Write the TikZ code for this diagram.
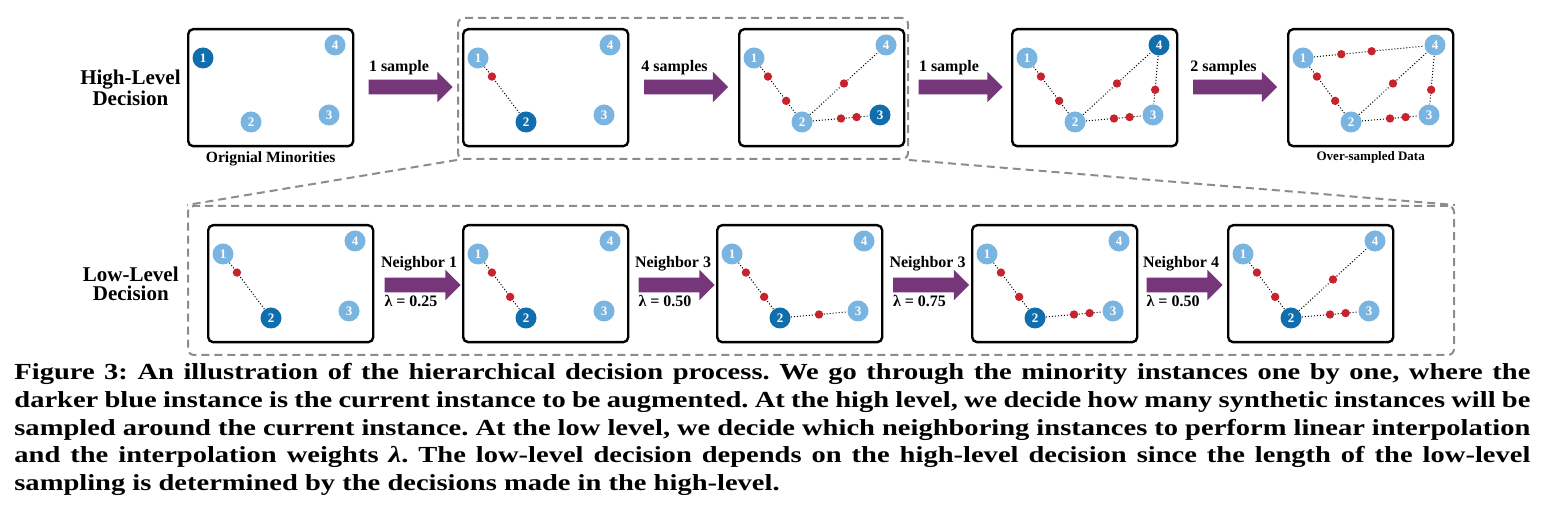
\documentclass[tikz,border=0pt]{standalone}
\usepackage{fontspec}
\setmainfont{Liberation Serif}
\newfontfamily\capfont[FakeStretch=1.24]{Liberation Serif}
\usepackage{tikz}
\usetikzlibrary{positioning,calc,shapes.arrows}
\definecolor{instdark}{RGB}{17,110,172}
\definecolor{instlight}{RGB}{122,180,225}
\definecolor{synthred}{RGB}{200,35,45}
\definecolor{arrowpurple}{RGB}{117,55,122}
\definecolor{zoomgray}{RGB}{140,140,140}
\def\rdot{2.1pt}
\tikzset{
	panelbox/.style={
		draw=black,
		line width=1.2pt,
		rounded corners=2.5pt,
		inner sep=0pt,
		minimum width=82.5pt,
		minimum height=58.5pt,
	},
	inst/.style={
		circle,
		inner sep=0pt,
		minimum size=10.5pt,
		text=white,
		font=\fontsize{6.5}{6.5}\selectfont\bfseries,
	},
	nbr/.style={densely dotted, line width=0.5pt},
	synth/.style={fill=synthred},
	bigarrow/.style={
		single arrow,
		fill=arrowpurple,
		inner xsep=0pt,
		inner ysep=3.5pt,
		single arrow head extend=4pt,
		minimum height=#1,
	},
	lbl/.style={inner sep=1pt, font=\fontsize{8}{9}\selectfont\bfseries},
	side/.style={align=center, inner sep=0pt, font=\fontsize{10.5}{9.5}\selectfont\bfseries},
	sub/.style={inner sep=1pt, font=\fontsize{7.8}{8}\selectfont\bfseries},
	zoombox/.style={
		draw=zoomgray,
		line width=1pt,
		dash pattern=on 4pt off 2.5pt,
		rounded corners=3pt,
		inner sep=0pt,
	},
	zoomline/.style={draw=zoomgray, line width=1pt, dash pattern=on 4pt off 2.5pt},
	capline/.style={inner sep=0pt, anchor=base west, font=\capfont\bfseries\fontsize{11.5}{11.5}\selectfont\frenchspacing},
}
% #1 name, #2/#3 top left corner, #4 current instance
\newcommand{\drawpanel}[4]{%
	\begin{scope}[shift={(#2,#3)}]
		\node[panelbox, anchor=north west] (#1) at (0,0) {};
		\foreach \i/\px/\py in {1/16/30, 2/64/94, 3/142/87, 4/148/17} {
			\ifnum\i=#4 \def\fc{instdark}\else\def\fc{instlight}\fi
			\node[inst, fill=\fc] (#1-\i) at (\px,\py) {\i};
		}
	\end{scope}
}

\begin{document}
\begin{tikzpicture}[x=0.5pt, y=-0.5pt]
	\useasboundingbox (0,0) rectangle (1547,522);

	% zoom frames
	\node[zoombox, anchor=north west, minimum width=225pt, minimum height=70.5pt] (zoomhi) at (457,17) {};
	\node[zoombox, anchor=north west, minimum width=633pt, minimum height=74.5pt] (zoomlo) at (187,205) {};
	\draw[zoomline] (zoomhi.south west) -- (zoomlo.north west);
	\draw[zoomline] (zoomhi.south east) -- (zoomlo.north east);

	% high level
	\drawpanel{p1}{187}{28}{1}
	\drawpanel{p2}{462}{28}{2}
	\drawpanel{p3}{738}{28}{3}
	\drawpanel{p4}{1011}{28}{4}
	\drawpanel{p5}{1287}{28}{0}

	% low level
	\drawpanel{q1}{207}{224}{2}
	\drawpanel{q2}{462}{224}{2}
	\drawpanel{q3}{716}{224}{2}
	\drawpanel{q4}{971}{224}{2}
	\drawpanel{q5}{1227}{224}{2}

	\foreach \p/\a/\b in {p2/1/2, p3/1/2, p3/2/4, p3/2/3, p4/1/2, p4/2/4, p4/2/3, p4/4/3,
		p5/1/2, p5/2/4, p5/2/3, p5/4/3, p5/1/4,
		q1/1/2, q2/1/2, q3/1/2, q3/2/3, q4/1/2, q4/2/3, q5/1/2, q5/2/3, q5/2/4}
		\draw[nbr] (\p-\a) -- (\p-\b);

	\foreach \p/\a/\b/\t in {p2/1/2/0.29,
		p3/1/2/0.29, p3/1/2/0.67, p3/2/4/0.5, p3/2/3/0.5, p3/2/3/0.7,
		p4/1/2/0.29, p4/1/2/0.67, p4/2/4/0.5, p4/2/3/0.5, p4/2/3/0.7, p4/4/3/0.64,
		p5/1/2/0.29, p5/1/2/0.67, p5/2/4/0.5, p5/2/3/0.5, p5/2/3/0.7, p5/4/3/0.64, p5/1/4/0.29, p5/1/4/0.52,
		q1/1/2/0.29,
		q2/1/2/0.29, q2/1/2/0.67,
		q3/1/2/0.29, q3/1/2/0.67, q3/2/3/0.5,
		q4/1/2/0.29, q4/1/2/0.67, q4/2/3/0.5, q4/2/3/0.7,
		q5/1/2/0.29, q5/1/2/0.67, q5/2/3/0.5, q5/2/3/0.7, q5/2/4/0.5}
		\fill[synth] ($(\p-\a)!\t!(\p-\b)$) circle (\rdot);

	% arrows between panels
	\node[bigarrow=42pt] (a1) at (407,87) {};
	\node[bigarrow=42pt] (a2) at (682.5,87) {};
	\node[bigarrow=42pt] (a3) at (957,87) {};
	\node[bigarrow=42pt] (a4) at (1231.5,87) {};
	\node[lbl, above=1pt of a1, xshift=-4pt] (a1-l) {1 sample};
	\node[lbl, above=1pt of a2, xshift=-4pt] (a2-l) {4 samples};
	\node[lbl, above=1pt of a3, xshift=-4pt] (a3-l) {1 sample};
	\node[lbl, above=1pt of a4, xshift=-4pt] (a4-l) {2 samples};

	\node[bigarrow=38pt] (b1) at (419,285) {};
	\node[bigarrow=38pt] (b2) at (673,285) {};
	\node[bigarrow=38pt] (b3) at (927.5,285) {};
	\node[bigarrow=38pt] (b4) at (1181,285) {};
	\node[lbl, above=2pt of b1] (b1-n) {Neighbor 1};
	\node[lbl, above=2pt of b2] (b2-n) {Neighbor 3};
	\node[lbl, above=2pt of b3] (b3-n) {Neighbor 3};
	\node[lbl, above=2pt of b4] (b4-n) {Neighbor 4};
	\node[lbl, below=0pt of b1, xshift=-4pt] (b1-w) {λ = 0.25};
	\node[lbl, below=0pt of b2, xshift=-4pt] (b2-w) {λ = 0.50};
	\node[lbl, below=0pt of b3, xshift=-4pt] (b3-w) {λ = 0.75};
	\node[lbl, below=0pt of b4, xshift=-4pt] (b4-w) {λ = 0.50};

	% row titles and panel captions
	\node[side, left=3pt of p1] (hi) {High-Level\\Decision};
	\node[side, left=14pt of q1] (lo) {Low-Level\\Decision};
	\node[sub, below=1pt of p1] (p1-c) {Orignial Minorities};
	\node[sub, below=1pt of p5, font=\fontsize{6.5}{7}\selectfont\bfseries] (p5-c) {Over-sampled Data};

	% figure caption
	\node[capline] (cap1) at (14,380) {\hbox to 758pt{Figure 3: An illustration of the hierarchical decision process. We go through the minority instances one by one, where the}};
	\node[capline] (cap2) at (14,408) {\hbox to 758pt{darker blue instance is the current instance to be augmented. At the high level, we decide how many synthetic instances will be}};
	\node[capline] (cap3) at (14,436) {\hbox to 758pt{sampled around the current instance. At the low level, we decide which neighboring instances to perform linear interpolation}};
	\node[capline] (cap4) at (14,463) {\hbox to 758pt{and the interpolation weights \textit{λ}. The low-level decision depends on the high-level decision since the length of the low-level}};
	\node[capline] (cap5) at (14,491) {sampling is determined by the decisions made in the high-level.};
\end{tikzpicture}
\end{document}
